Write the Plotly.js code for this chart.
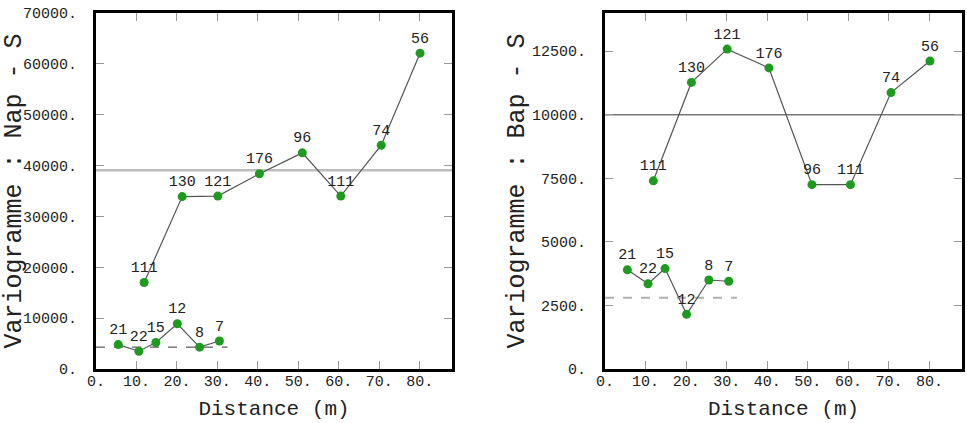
<!DOCTYPE html>
<html>
<head>
<meta charset="utf-8">
<script src="https://cdn.plot.ly/plotly-3.0.1.min.js"></script>
<style>html,body{margin:0;padding:0;background:#fff}#chart{width:967px;height:423px}</style>
</head>
<body>
<div id="chart"></div>
<script>
// ---- Data ----
// Short-lag variogram (small classes)
const shortLag = [5.5, 10.6, 14.8, 20.1, 25.6, 30.5];
const shortPairs = ['21', '22', '15', '12', '8', '7'];
const napShort = [4800, 3500, 5200, 8900, 4300, 5500];
const bapShort = [3900, 3350, 3950, 2150, 3500, 3450];

// Long-lag variogram
const longLag = [11.9, 21.3, 30.1, 40.4, 51.0, 60.5, 70.5, 80.1];
const longPairs = ['111', '130', '121', '176', '96', '111', '74', '56'];
const napLong = [17000, 33900, 34000, 38400, 42500, 34000, 44000, 62100];
const bapLong = [7400, 11270, 12580, 11840, 7250, 7250, 10870, 12110];

// Variance (sill) lines
const sillSpan = [0, 88];
const napSill = [39100, 39100];
const bapSill = [10000, 10000];
const shortSpan = [0, 32.5];
const napShortVar = [4300, 4300];
const bapShortVar = [2800, 2800];

// Tick labels
const xTickVals = [0, 10, 20, 30, 40, 50, 60, 70, 80];
const xTickText = ['0.', '10.', '20.', '30.', '40.', '50.', '60.', '70.', '80.'];
const napTickVals = [0, 10000, 20000, 30000, 40000, 50000, 60000, 70000];
const napTickText = ['0.', '10000.', '20000.', '30000.', '40000.', '50000.', '60000.', '70000.'];
const bapTickVals = [0, 2500, 5000, 7500, 10000, 12500];
const bapTickText = ['0.', '2500.', '5000.', '7500.', '10000.', '12500.'];

// ---- Styling ----
const FONT = '"Liberation Mono", "Courier New", monospace';
const GREEN = '#1e9a1e';
const markerStyle = {color: GREEN, size: 9};
const txtFont = {family: FONT, size: 15, color: '#222'};

function series(x, y, txt, xa, ya, lineColor) {
  return {
    type: 'scatter', mode: 'lines+markers+text',
    x: x, y: y, text: txt, textposition: 'top center', textfont: txtFont,
    line: {color: lineColor, width: 1.2}, marker: markerStyle,
    xaxis: xa, yaxis: ya, hoverinfo: 'x+y', showlegend: false, cliponaxis: false
  };
}
function hline(x, y, xa, ya, color, width, dash) {
  return {
    type: 'scatter', mode: 'lines', x: x, y: y,
    line: {color: color, width: width, dash: dash},
    xaxis: xa, yaxis: ya, hoverinfo: 'skip', showlegend: false
  };
}

const traces = [
  hline(sillSpan, napSill, 'x', 'y', '#bdbdbd', 2.5, 'solid'),
  hline(shortSpan, napShortVar, 'x', 'y', '#333', 1, 'dash'),
  series(shortLag, napShort, shortPairs, 'x', 'y', '#555'),
  series(longLag, napLong, longPairs, 'x', 'y', '#555'),
  hline(sillSpan, bapSill, 'x2', 'y2', '#777', 1.5, 'solid'),
  hline(shortSpan, bapShortVar, 'x2', 'y2', '#b0b0b0', 2, 'dash'),
  series(shortLag, bapShort, shortPairs, 'x2', 'y2', '#555'),
  series(longLag, bapLong, longPairs, 'x2', 'y2', '#555')
];

const tickFont = {family: FONT, size: 15, color: '#222'};
function xAxis(domain, anchor) {
  return {
    domain: domain, anchor: anchor, range: sillSpan,
    tickmode: 'array', tickvals: xTickVals, ticktext: xTickText,
    ticks: 'inside', ticklen: 8, tickwidth: 1, tickcolor: '#999',
    showline: true, linecolor: '#000', linewidth: 3, mirror: 'allticks',
    showgrid: false, zeroline: false, tickfont: tickFont, ticklabelstandoff: -4,
    title: {text: 'Distance (m)', font: {family: FONT, size: 21, color: '#222'}, standoff: 11}
  };
}
function yAxis(range, vals, text, anchor, title) {
  return {
    domain: [0, 1], anchor: anchor, range: range,
    tickmode: 'array', tickvals: vals, ticktext: text,
    ticks: 'inside', ticklen: 8, tickwidth: 1, tickcolor: '#999',
    showline: true, linecolor: '#000', linewidth: 3, mirror: 'allticks',
    showgrid: false, zeroline: false, tickfont: tickFont, ticklabelstandoff: 13,
    title: {text: title, font: {family: FONT, size: 25, color: '#222'}, standoff: 0}
  };
}

const layout = {
  width: 967, height: 423,
  margin: {l: 96, r: 5, t: 13, b: 54},
  paper_bgcolor: '#fff', plot_bgcolor: '#fff',
  showlegend: false,
  xaxis: xAxis([0, 0.4111], 'y'),
  yaxis: yAxis([0, 70000], napTickVals, napTickText, 'x', 'Variogramme : Nap - S'),
  xaxis2: xAxis([0.5878, 1], 'y2'),
  yaxis2: yAxis([0, 14000], bapTickVals, bapTickText, 'x2', 'Variogramme : Bap - S')
};

Plotly.newPlot('chart', traces, layout, {displayModeBar: false, staticPlot: true});
</script>
</body>
</html>
